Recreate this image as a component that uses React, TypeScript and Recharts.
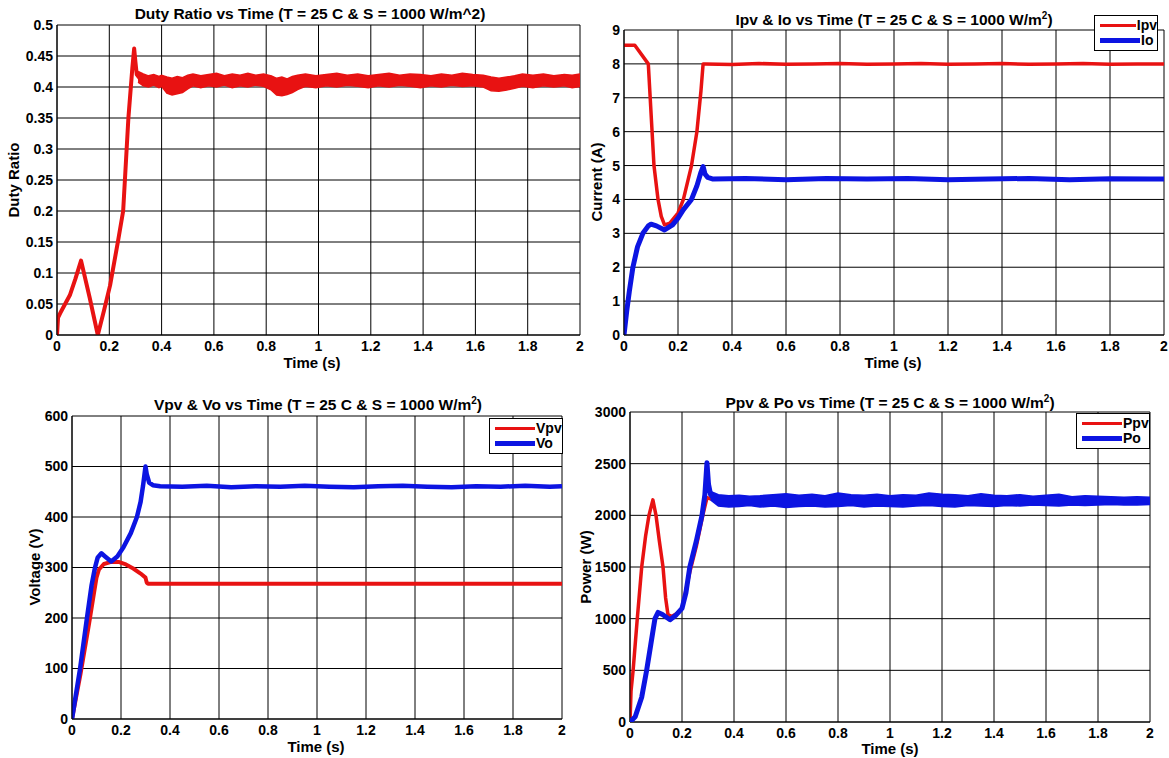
import React from "react";
import { ComposedChart, Line, Area, XAxis, YAxis, CartesianGrid } from "recharts";

const RED = "#e81212";
const BLUE = "#0c14e2";
const FONT = "'Liberation Sans', Arial, Helvetica, sans-serif";

const timeTicks = [0, 0.2, 0.4, 0.6, 0.8, 1, 1.2, 1.4, 1.6, 1.8, 2];

// Panel 1: Duty ratio
const dutyTicks = [0, 0.05, 0.1, 0.15, 0.2, 0.25, 0.3, 0.35, 0.4, 0.45, 0.5];
const dutyT = [0, 0.004, 0.012, 0.05, 0.07, 0.092, 0.125, 0.156, 0.18, 0.203, 0.234, 0.253, 0.273, 0.288, 0.295, 0.3, 0.305, 0.32];
const dutyV = [0, 0.028, 0.035, 0.065, 0.09, 0.12, 0.06, 0.0, 0.04, 0.08, 0.153, 0.2, 0.35, 0.43, 0.462, 0.44, 0.42, 0.412];
const dutyBandT = [
  0.31, 0.33, 0.35, 0.37, 0.39, 0.4, 0.42, 0.44, 0.46, 0.48,
  0.5, 0.52, 0.55, 0.58, 0.61, 0.64, 0.67, 0.7, 0.73, 0.76,
  0.79, 0.82, 0.84, 0.86, 0.88, 0.9, 0.92, 0.95, 0.99, 1.03,
  1.07, 1.11, 1.15, 1.19, 1.23, 1.27, 1.31, 1.35, 1.39, 1.43,
  1.47, 1.51, 1.55, 1.59, 1.63, 1.66, 1.69, 1.72, 1.75, 1.78,
  1.82, 1.86, 1.9, 1.94, 1.97, 2.0,
];
const dutyBandHi = [
  0.425, 0.421, 0.418, 0.42, 0.417, 0.419, 0.416, 0.414, 0.417, 0.415,
  0.419, 0.421, 0.418, 0.42, 0.422, 0.418, 0.421, 0.419, 0.422, 0.419,
  0.421, 0.418, 0.414, 0.416, 0.413, 0.417, 0.419, 0.421, 0.418, 0.42,
  0.422, 0.419, 0.421, 0.418, 0.42, 0.422, 0.419, 0.421, 0.42, 0.418,
  0.421, 0.419, 0.422, 0.42, 0.419, 0.416, 0.414, 0.416, 0.418, 0.421,
  0.419, 0.421, 0.418, 0.42, 0.419, 0.421,
];
const dutyBandLo = [
  0.408, 0.402, 0.4, 0.403, 0.399, 0.401, 0.39, 0.387, 0.389, 0.391,
  0.397, 0.402, 0.399, 0.402, 0.4, 0.403, 0.399, 0.402, 0.4, 0.403,
  0.401, 0.395, 0.387, 0.386, 0.388, 0.391, 0.396, 0.401, 0.399, 0.402,
  0.4, 0.403, 0.401, 0.399, 0.402, 0.4, 0.403, 0.401, 0.399, 0.402,
  0.4, 0.403, 0.401, 0.402, 0.4, 0.394, 0.393, 0.395, 0.398, 0.401,
  0.399, 0.402, 0.4, 0.402, 0.399, 0.401,
];

// Panel 2: currents
const currentTicks = [0, 1, 2, 3, 4, 5, 6, 7, 8, 9];
const ipvT = [0, 0.04, 0.09, 0.104, 0.111, 0.126, 0.138, 0.15, 0.17, 0.2, 0.22, 0.25, 0.27, 0.285, 0.293, 0.3, 0.4, 0.5, 0.6, 0.7, 0.8, 0.9, 1.0, 1.1, 1.2, 1.3, 1.4, 1.5, 1.6, 1.7, 1.8, 1.9, 2.0];
const ipvV = [8.55, 8.55, 8.0, 6.0, 5.0, 4.0, 3.5, 3.25, 3.3, 3.6, 4.0, 5.0, 6.0, 7.2, 8.0, 8.0, 7.98, 8.01, 7.99, 8.0, 8.01, 7.99, 8.0, 8.01, 7.99, 8.0, 8.01, 7.99, 8.0, 8.01, 7.99, 8.0, 8.0];
const ioT = [0, 0.01, 0.02, 0.033, 0.05, 0.07, 0.09, 0.1, 0.12, 0.15, 0.18, 0.2, 0.22, 0.25, 0.27, 0.285, 0.293, 0.3, 0.31, 0.33, 0.45, 0.6, 0.75, 0.9, 1.05, 1.2, 1.35, 1.5, 1.65, 1.8, 1.95, 2.0];
const ioV = [0, 0.7, 1.3, 2.0, 2.6, 3.0, 3.22, 3.27, 3.22, 3.1, 3.25, 3.45, 3.7, 4.0, 4.4, 4.8, 4.97, 4.75, 4.65, 4.6, 4.62, 4.58, 4.62, 4.6, 4.62, 4.58, 4.6, 4.62, 4.58, 4.61, 4.6, 4.6];

// Panel 3: voltages
const voltageTicks = [0, 100, 200, 300, 400, 500, 600];
const vpvT = [0, 0.035, 0.07, 0.09, 0.1, 0.11, 0.13, 0.16, 0.19, 0.22, 0.25, 0.28, 0.3, 0.305, 0.31, 0.5, 0.8, 1.1, 1.4, 1.7, 2.0];
const vpvV = [0, 90, 190, 250, 280, 296, 307, 311, 311, 306, 298, 288, 280, 270, 268, 268, 268, 268, 268, 268, 268];
const voT = [0, 0.033, 0.061, 0.08, 0.094, 0.105, 0.12, 0.135, 0.16, 0.185, 0.21, 0.24, 0.265, 0.28, 0.29, 0.3, 0.305, 0.315, 0.33, 0.36, 0.45, 0.55, 0.65, 0.75, 0.85, 0.95, 1.05, 1.15, 1.25, 1.35, 1.45, 1.55, 1.65, 1.75, 1.85, 1.95, 2.0];
const voV = [0, 100, 200, 265, 300, 320, 328, 322, 312, 322, 340, 368, 400, 430, 462, 500, 485, 468, 463, 461, 460, 462, 459, 461, 460, 462, 460, 459, 461, 462, 460, 459, 461, 460, 462, 460, 461];

// Panel 4: powers
const powerTicks = [0, 500, 1000, 1500, 2000, 2500, 3000];
const ppvT = [0, 0.004, 0.012, 0.028, 0.045, 0.06, 0.073, 0.088, 0.1, 0.113, 0.127, 0.137, 0.146, 0.16, 0.18, 0.2, 0.23, 0.255, 0.28, 0.296, 0.31, 2.0];
const ppvV = [0, 300, 500, 1000, 1500, 1800, 2000, 2150, 2000, 1750, 1500, 1200, 1040, 1020, 1050, 1100, 1450, 1700, 2000, 2170, 2160, 2150];
const poT = [0, 0.02, 0.045, 0.064, 0.08, 0.096, 0.108, 0.125, 0.154, 0.175, 0.2, 0.215, 0.23, 0.255, 0.277, 0.288, 0.296, 0.302, 0.31, 0.32];
const poV = [0, 50, 240, 500, 750, 1000, 1060, 1040, 990, 1030, 1100, 1250, 1500, 1750, 2000, 2200, 2510, 2300, 2200, 2170];
const poBandT = [
  0.31, 0.34, 0.38, 0.42, 0.46, 0.5, 0.55, 0.6, 0.65, 0.7,
  0.75, 0.8, 0.85, 0.9, 0.95, 1.0, 1.05, 1.1, 1.15, 1.2,
  1.25, 1.3, 1.35, 1.4, 1.45, 1.5, 1.55, 1.6, 1.65, 1.7,
  1.75, 1.8, 1.85, 1.9, 1.95, 2.0,
];
const poBandHi = [
  2230, 2200, 2190, 2195, 2185, 2190, 2200, 2210, 2195, 2205,
  2190, 2215, 2200, 2195, 2205, 2190, 2200, 2195, 2215, 2205,
  2200, 2190, 2210, 2195, 2190, 2200, 2185, 2195, 2205, 2180,
  2190, 2185, 2180, 2175, 2180, 2175,
];
const poBandLo = [
  2150, 2090, 2080, 2085, 2095, 2080, 2090, 2075, 2085, 2090,
  2080, 2085, 2095, 2080, 2090, 2085, 2080, 2090, 2095, 2085,
  2080, 2095, 2090, 2085, 2095, 2090, 2100, 2095, 2090, 2100,
  2095, 2100, 2105, 2100, 2100, 2105,
];

const zip = (t: number[], v: number[]) => t.map((x, i) => ({ t: x, v: v[i] }));
const band = (t: number[], lo: number[], hi: number[]) => t.map((x, i) => ({ t: x, b: [lo[i], hi[i]] }));

type Rect = { x0: number; x1: number; y0: number; y1: number };

const YW = 60;
const MT = 10;
const MR = 10;
const XH = 26;

const tickStyle = { fill: "#000", fontSize: 14, fontWeight: 700, fontFamily: FONT };

function Panel(props: { r: Rect; yTicks: number[]; children: React.ReactNode }) {
  const { r, yTicks } = props;
  const w = r.x1 - r.x0 + YW + MR;
  const h = r.y1 - r.y0 + MT + XH;
  return (
    <div style={{ position: "absolute", left: r.x0 - YW, top: r.y0 - MT, width: w, height: h }}>
      <ComposedChart width={w} height={h} margin={{ top: MT, right: MR, left: 0, bottom: 0 }}>
        <CartesianGrid stroke="#000" strokeWidth={1} />
        <XAxis
          type="number"
          dataKey="t"
          domain={[0, 2]}
          ticks={timeTicks}
          allowDataOverflow
          height={XH}
          tickSize={0}
          tickMargin={6}
          axisLine={{ stroke: "#000", strokeWidth: 1 }}
          tickLine={false}
          tick={tickStyle}
          interval={0}
        />
        <YAxis
          type="number"
          domain={[yTicks[0], yTicks[yTicks.length - 1]]}
          ticks={yTicks}
          allowDataOverflow
          width={YW}
          tickSize={0}
          tickMargin={4}
          axisLine={{ stroke: "#000", strokeWidth: 1 }}
          tickLine={false}
          tick={tickStyle}
          interval={0}
        />
        {props.children}
      </ComposedChart>
    </div>
  );
}

function Txt(props: { x: number; y: number; rotate?: boolean; size?: number; children: React.ReactNode }) {
  const size = props.size ?? 15;
  return (
    <div
      style={{
        position: "absolute",
        left: props.x,
        top: props.y,
        transform: `translate(-50%, -50%)${props.rotate ? " rotate(-90deg)" : ""}`,
        whiteSpace: "nowrap",
        fontFamily: FONT,
        fontWeight: 700,
        fontSize: size,
        lineHeight: `${size}px`,
        color: "#000",
      }}
    >
      {props.children}
    </div>
  );
}

function LegendBox(props: { x: number; y: number; w: number; items: { name: string; color: string; width: number }[] }) {
  return (
    <div
      style={{
        position: "absolute",
        left: props.x,
        top: props.y,
        width: props.w,
        border: "1px solid #000",
        background: "#fff",
        padding: "2px 0 2px 0",
        fontFamily: FONT,
        fontWeight: 700,
        fontSize: 14,
        lineHeight: "15px",
      }}
    >
      {props.items.map((it) => (
        <div key={it.name} style={{ display: "flex", alignItems: "center", height: 15 }}>
          <div style={{ marginLeft: 5, width: 40, height: it.width, background: it.color }} />
          <span style={{ marginLeft: 1 }}>{it.name}</span>
        </div>
      ))}
    </div>
  );
}

const P1: Rect = { x0: 57, x1: 580, y0: 25, y1: 335 };
const P2: Rect = { x0: 624, x1: 1164, y0: 30, y1: 335 };
const P3: Rect = { x0: 72, x1: 562, y0: 416, y1: 719 };
const P4: Rect = { x0: 630, x1: 1150, y0: 412, y1: 722 };

const sup = <sup style={{ fontSize: 10 }}>2</sup>;

export default function App() {
  return (
    <div style={{ position: "absolute", left: 0, top: 0, width: 1169, height: 758, background: "#fff", overflow: "hidden" }}>
      <Panel r={P1} yTicks={dutyTicks}>
        <Area data={band(dutyBandT, dutyBandLo, dutyBandHi)} dataKey="b" type="linear" stroke={RED} strokeWidth={1.5} fill={RED} fillOpacity={1} dot={false} activeDot={false} isAnimationActive={false} />
        <Line data={zip(dutyT, dutyV)} dataKey="v" type="linear" stroke={RED} strokeWidth={4} dot={false} activeDot={false} isAnimationActive={false} strokeLinejoin="round" />
      </Panel>
      <Panel r={P2} yTicks={currentTicks}>
        <Line data={zip(ipvT, ipvV)} dataKey="v" type="linear" stroke={RED} strokeWidth={3.5} dot={false} activeDot={false} isAnimationActive={false} strokeLinejoin="round" />
        <Line data={zip(ioT, ioV)} dataKey="v" type="linear" stroke={BLUE} strokeWidth={5} dot={false} activeDot={false} isAnimationActive={false} strokeLinejoin="round" />
      </Panel>
      <Panel r={P3} yTicks={voltageTicks}>
        <Line data={zip(vpvT, vpvV)} dataKey="v" type="linear" stroke={RED} strokeWidth={4} dot={false} activeDot={false} isAnimationActive={false} strokeLinejoin="round" />
        <Line data={zip(voT, voV)} dataKey="v" type="linear" stroke={BLUE} strokeWidth={4.5} dot={false} activeDot={false} isAnimationActive={false} strokeLinejoin="round" />
      </Panel>
      <Panel r={P4} yTicks={powerTicks}>
        <Line data={zip(ppvT, ppvV)} dataKey="v" type="linear" stroke={RED} strokeWidth={3.5} dot={false} activeDot={false} isAnimationActive={false} strokeLinejoin="round" zIndex={300} />
        <Line data={zip(poT, poV)} dataKey="v" type="linear" stroke={BLUE} strokeWidth={5} dot={false} activeDot={false} isAnimationActive={false} strokeLinejoin="round" zIndex={900} />
        <Area data={band(poBandT, poBandLo, poBandHi)} dataKey="b" type="linear" stroke={BLUE} strokeWidth={1.5} fill={BLUE} fillOpacity={1} dot={false} activeDot={false} isAnimationActive={false} zIndex={800} />
      </Panel>

      <Txt x={310} y={14} size={15.5}>Duty Ratio vs Time (T = 25 C &amp; S = 1000 W/m^2)</Txt>
      <Txt x={894} y={18} size={15.5}>Ipv &amp; Io vs Time (T = 25 C &amp; S = 1000 W/m{sup})</Txt>
      <Txt x={318} y={403} size={15.5}>Vpv &amp; Vo vs Time (T = 25 C &amp; S = 1000 W/m{sup})</Txt>
      <Txt x={890} y={401} size={15.5}>Ppv &amp; Po vs Time (T = 25 C &amp; S = 1000 W/m{sup})</Txt>

      <Txt x={312} y={362}>Time (s)</Txt>
      <Txt x={893} y={362}>Time (s)</Txt>
      <Txt x={316} y={746}>Time (s)</Txt>
      <Txt x={890} y={748}>Time (s)</Txt>

      <Txt x={13} y={180} rotate>Duty Ratio</Txt>
      <Txt x={596} y={182} rotate>Current (A)</Txt>
      <Txt x={34} y={567} rotate>Voltage (V)</Txt>
      <Txt x={585} y={567} rotate>Power (W)</Txt>

      <LegendBox x={1094} y={15} w={62} items={[{ name: "Ipv", color: RED, width: 3 }, { name: "Io", color: BLUE, width: 5 }]} />
      <LegendBox x={489} y={418} w={72} items={[{ name: "Vpv", color: RED, width: 3 }, { name: "Vo", color: BLUE, width: 5 }]} />
      <LegendBox x={1076} y={413} w={72} items={[{ name: "Ppv", color: RED, width: 3 }, { name: "Po", color: BLUE, width: 5 }]} />
    </div>
  );
}
